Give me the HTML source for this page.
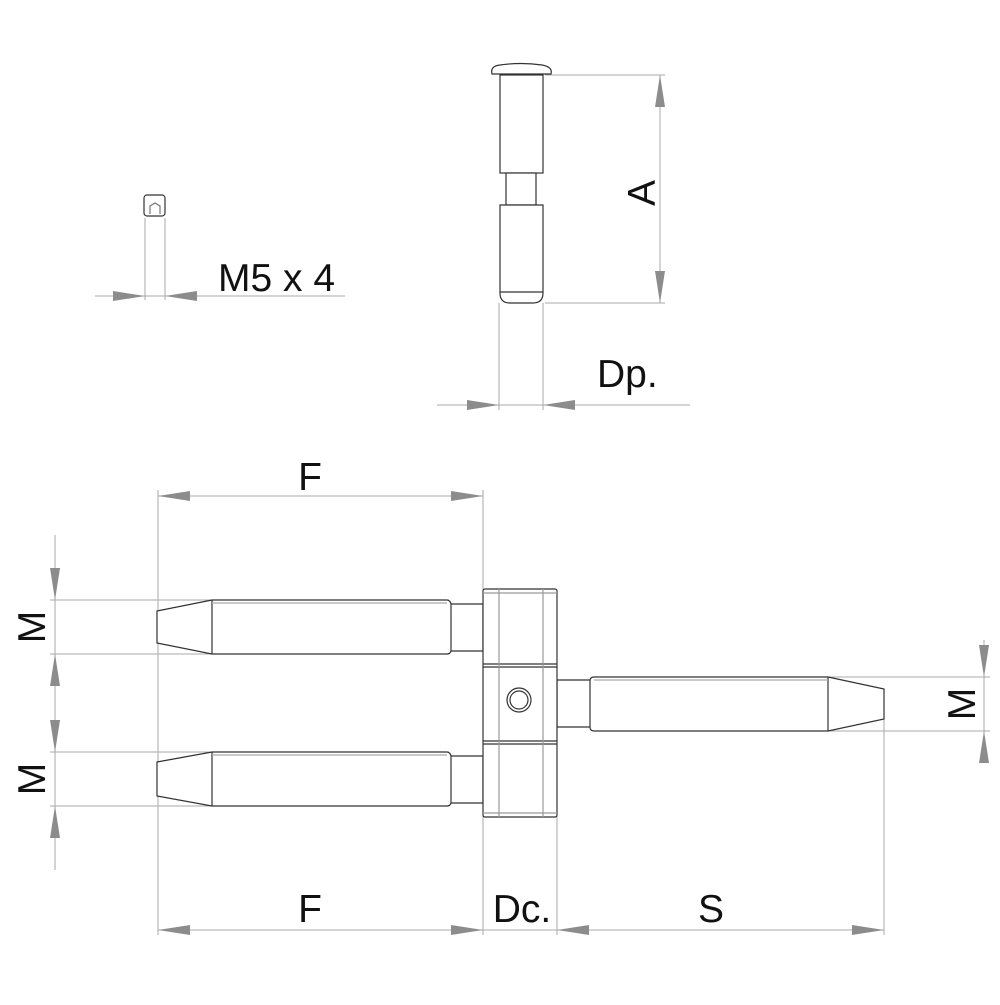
<!DOCTYPE html>
<html><head><meta charset="utf-8"><style>html,body{margin:0;padding:0;background:#fff}</style></head>
<body>
<svg width="1000" height="1000" viewBox="0 0 1000 1000" xmlns="http://www.w3.org/2000/svg">
<defs>
<marker id="ar" viewBox="0 0 32 10" refX="32" refY="5" markerWidth="32" markerHeight="10" markerUnits="userSpaceOnUse" orient="auto">
<path d="M0,0 L32,5 L0,10 Z" fill="#8c8c8c"/>
</marker>
</defs>
<g stroke="#aaa" stroke-width="1" fill="none">
<!-- screw -->
<line x1="145" y1="218" x2="145" y2="300"/><line x1="165" y1="218" x2="165" y2="300"/>
<line x1="95" y1="296" x2="345" y2="296"/>
<!-- pin A -->
<line x1="545" y1="75" x2="665" y2="75"/><line x1="545" y1="303" x2="665" y2="303"/>
<line x1="660" y1="75" x2="660" y2="303"/>
<line x1="499" y1="303" x2="499" y2="410"/><line x1="543" y1="303" x2="543" y2="410"/>
<line x1="437" y1="405" x2="690" y2="405"/>
<!-- F top -->
<line x1="158" y1="490" x2="158" y2="935"/><line x1="483" y1="490" x2="483" y2="935"/>
<line x1="557" y1="815" x2="557" y2="935"/><line x1="884" y1="700" x2="884" y2="935"/>
<line x1="158" y1="496" x2="483" y2="496"/>
<line x1="158" y1="930" x2="884" y2="930"/>
<!-- left M -->
<line x1="55" y1="535" x2="55" y2="870"/>
<line x1="50" y1="600" x2="212" y2="600"/><line x1="50" y1="654" x2="212" y2="654"/>
<line x1="50" y1="752" x2="212" y2="752"/><line x1="50" y1="806" x2="212" y2="806"/>
<!-- right M -->
<line x1="984" y1="640" x2="984" y2="762"/>
<line x1="828" y1="677" x2="990" y2="677"/><line x1="828" y1="731" x2="990" y2="731"/>
</g>
<g stroke="none">
<line x1="117" y1="296" x2="145" y2="296" stroke="none" marker-end="url(#ar)"/>
<line x1="195" y1="296" x2="165" y2="296" marker-end="url(#ar)"/>
<line x1="660" y1="110" x2="660" y2="75" marker-end="url(#ar)"/>
<line x1="660" y1="270" x2="660" y2="303" marker-end="url(#ar)"/>
<line x1="465" y1="405" x2="499" y2="405" marker-end="url(#ar)"/>
<line x1="577" y1="405" x2="543" y2="405" marker-end="url(#ar)"/>
<line x1="192" y1="496" x2="158" y2="496" marker-end="url(#ar)"/>
<line x1="449" y1="496" x2="483" y2="496" marker-end="url(#ar)"/>
<line x1="192" y1="930" x2="158" y2="930" marker-end="url(#ar)"/>
<line x1="449" y1="930" x2="483" y2="930" marker-end="url(#ar)"/>
<line x1="591" y1="930" x2="557" y2="930" marker-end="url(#ar)"/>
<line x1="850" y1="930" x2="884" y2="930" marker-end="url(#ar)"/>
<line x1="55" y1="566" x2="55" y2="600" marker-end="url(#ar)"/>
<line x1="55" y1="688" x2="55" y2="654" marker-end="url(#ar)"/>
<line x1="55" y1="718" x2="55" y2="752" marker-end="url(#ar)"/>
<line x1="55" y1="840" x2="55" y2="806" marker-end="url(#ar)"/>
<line x1="984" y1="643" x2="984" y2="677" marker-end="url(#ar)"/>
<line x1="984" y1="765" x2="984" y2="731" marker-end="url(#ar)"/>
</g>
<g stroke="#333" stroke-width="1.2" fill="#fff">
<!-- screw -->
<rect x="144" y="195" width="21" height="21" rx="3"/>
<path d="M150,214 V206 L155,203 L160,206 V214" fill="none" stroke="#777"/>
<!-- pin -->
<rect x="500" y="75" width="43" height="98"/>
<rect x="506" y="173" width="30" height="32"/>
<path d="M500,205 H543 V293 Q543,303 533,303 H510 Q500,303 500,293 Z"/>
<line x1="500" y1="292" x2="543" y2="292"/>
<path d="M492,74 Q490,66 500,65 Q521,62 542,65 Q553,67 551,74 Z"/>
<!-- left pins -->
<path d="M450,604 H483 V651 H450 Z"/>
<path d="M157,611 L212,600 H447 Q450,600 451,604 V651 Q450,654 447,654 H212 L157,643 Z"/>
<line x1="212" y1="600" x2="212" y2="654"/>
<line x1="212" y1="603" x2="447" y2="603" stroke="#aaa"/>
<path d="M450,756 H483 V803 H450 Z"/>
<path d="M157,762 L212,752 H447 Q450,752 451,756 V803 Q450,806 447,806 H212 L157,796 Z"/>
<line x1="212" y1="752" x2="212" y2="806"/>
<line x1="212" y1="755" x2="447" y2="755" stroke="#aaa"/>
<!-- right pin -->
<path d="M557,680 H592 V727 H557 Z"/>
<path d="M884,689 L828,677 H594 Q590,677 590,681 V727 Q590,731 594,731 H828 L884,719 Z"/>
<line x1="828" y1="677" x2="828" y2="731"/>
<line x1="594" y1="680" x2="828" y2="680" stroke="#aaa"/>
<!-- barrel -->
<rect x="483" y="589" width="74" height="228" rx="2"/>
<line x1="483" y1="664" x2="557" y2="664"/><line x1="483" y1="667" x2="557" y2="667"/>
<line x1="483" y1="741" x2="557" y2="741"/><line x1="483" y1="744" x2="557" y2="744"/>
<line x1="483" y1="593" x2="557" y2="593" stroke="#999"/>
<line x1="483" y1="813" x2="557" y2="813" stroke="#999"/>
<line x1="499" y1="589" x2="499" y2="817" stroke="#999"/>
<line x1="543" y1="589" x2="543" y2="817" stroke="#999"/>
<circle cx="519" cy="700" r="12"/>
<circle cx="519" cy="700" r="9"/>
</g>
<g font-family="Liberation Sans, sans-serif" font-size="39" fill="#111">
<text x="218" y="291">M5 x 4</text>
<text x="597" y="387">Dp.</text>
<text transform="translate(655,193) rotate(-90)" text-anchor="middle">A</text>
<text x="310" y="490" text-anchor="middle">F</text>
<text x="310" y="922" text-anchor="middle">F</text>
<text x="522" y="922" text-anchor="middle">Dc.</text>
<text x="711" y="922" text-anchor="middle">S</text>
<text transform="translate(45,627) rotate(-90)" text-anchor="middle">M</text>
<text transform="translate(45,779) rotate(-90)" text-anchor="middle">M</text>
<text transform="translate(975,704) rotate(-90)" text-anchor="middle">M</text>
</g>
</svg>
</body></html>
